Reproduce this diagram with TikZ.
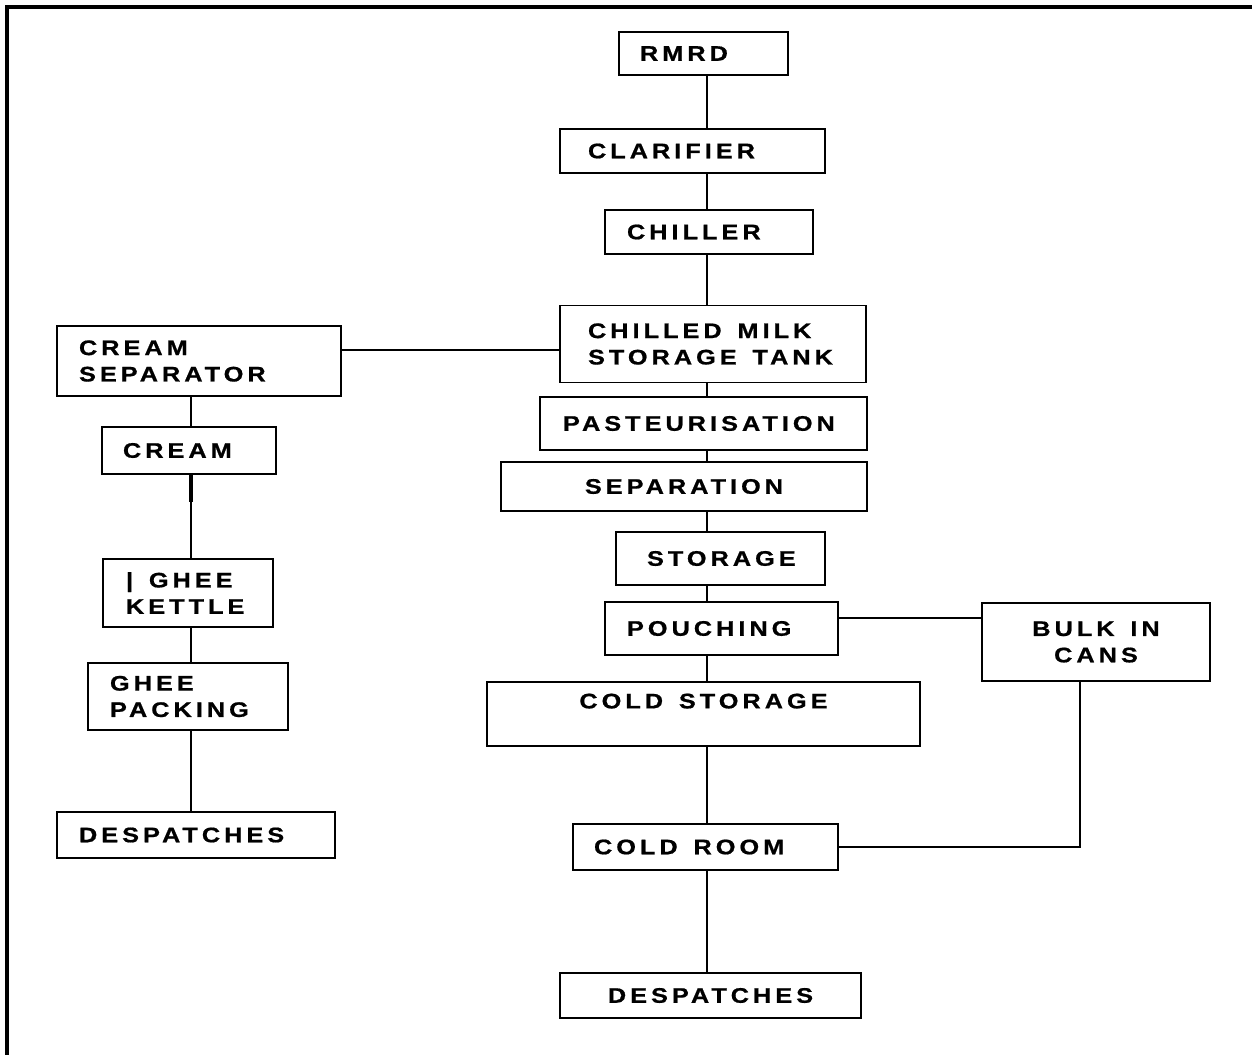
\documentclass[tikz,border=0pt]{standalone}
\usepackage{fontspec}
\setmainfont{Liberation Sans}[FakeStretch=1.2, LetterSpace=19, FakeBold=0.8]
\uchyph=0
\newcommand{\wgap}{\nobreak\hspace{0.75em}}

\begin{document}
\begin{tikzpicture}[
    x=0.02cm, y=-0.02cm,
    box/.style={
        draw, rectangle, align=left,
        font=\fontsize{12}{15}\selectfont\bfseries,
        inner ysep=0pt, line width=1pt
    },
    link/.style={line width=1pt},
    frame/.style={line width=1.8pt}
]
\useasboundingbox (0,0) rectangle (1252,1055);

% page frame (top and left only)
\coordinate (corner) at (7,7);
\draw[frame] (7,1060) -- (corner) -- (1260,7);

% milk line
\node[box, text width=2.54cm, inner xsep=0.42cm, minimum height=0.86cm] (rmrd) at (703.5,53.5) {RMRD};
\node[box, text width=4.18cm, inner xsep=0.56cm, minimum height=0.88cm] (clarifier) at (692.5,151) {CLARIFIER};
\node[box, text width=3.28cm, inner xsep=0.44cm, minimum height=0.88cm] (chiller) at (709,232) {CHILLER};
\node[box, text width=5.00cm, inner xsep=0.56cm, minimum height=1.54cm] (tank) at (713,344) {CHILLED\wgap MILK\\STORAGE\wgap TANK};
\node[box, text width=5.62cm, inner xsep=0.46cm, minimum height=1.06cm] (pasteur) at (703.5,423.5) {PASTEURISATION};
\node[box, align=center, text width=6.92cm, inner xsep=0.2cm, minimum height=0.98cm] (separation) at (684,486.5) {SEPARATION};
\node[box, text width=2.94cm, inner xsep=0.62cm, minimum height=1.06cm] (storage) at (720.5,558.5) {STORAGE};
\node[box, text width=3.78cm, inner xsep=0.44cm, minimum height=1.06cm] (pouching) at (721.5,628.5) {POUCHING};
\node[box, align=center, text width=8.26cm, inner xsep=0.2cm, minimum height=1.28cm, text depth=0.52cm] (coldstore) at (703.5,714) {COLD\wgap STORAGE};
\node[box, text width=4.46cm, inner xsep=0.42cm, minimum height=0.92cm] (coldroom) at (705.5,847) {COLD\wgap ROOM};
\node[box, align=center, text width=5.62cm, inner xsep=0.2cm, minimum height=0.90cm] (despR) at (710.5,995.5) {DESPATCHES};
\node[box, align=center, text width=4.16cm, inner xsep=0.2cm, minimum height=1.56cm] (bulk) at (1096,642) {BULK\wgap IN\\CANS};

% ghee line
\node[box, text width=4.80cm, inner xsep=0.44cm, minimum height=1.40cm] (csep) at (199,361) {CREAM\\SEPARATOR};
\node[box, text width=2.64cm, inner xsep=0.42cm, minimum height=0.94cm] (cream) at (189,450.5) {CREAM};
\node[box, text width=2.48cm, inner xsep=0.46cm, minimum height=1.36cm] (kettle) at (188,593) {|\wgap GHEE\\KETTLE};
\node[box, text width=3.12cm, inner xsep=0.44cm, minimum height=1.34cm] (packing) at (188,696.5) {GHEE\\PACKING};
\node[box, text width=4.68cm, inner xsep=0.44cm, minimum height=0.92cm] (despL) at (196,835) {DESPATCHES};

% connectors
\coordinate (spine) at (707,0);
\coordinate (lspine) at (191,0);
\coordinate (tankline) at (0,350);
\coordinate (bulkline) at (0,618);
\coordinate (bulkdrop) at (1080,0);

\foreach \a/\b in {rmrd/clarifier, clarifier/chiller, chiller/tank, tank/pasteur,
    pasteur/separation, separation/storage, storage/pouching,
    pouching/coldstore, coldstore/coldroom, coldroom/despR}
    \draw[link] (\a.south -| spine) -- (\b.north -| spine);

\foreach \a/\b in {csep/cream, cream/kettle, kettle/packing, packing/despL}
    \draw[link] (\a.south -| lspine) -- (\b.north -| lspine);
\draw[line width=2.2pt] (cream.south -| lspine) -- ++(0,27);

\draw[link] (csep.east |- tankline) -- (tank.west |- tankline);
\draw[link] (pouching.east |- bulkline) -- (bulk.west |- bulkline);
\draw[link] (bulk.south -| bulkdrop) |- (coldroom.east);

\end{tikzpicture}
\end{document}
